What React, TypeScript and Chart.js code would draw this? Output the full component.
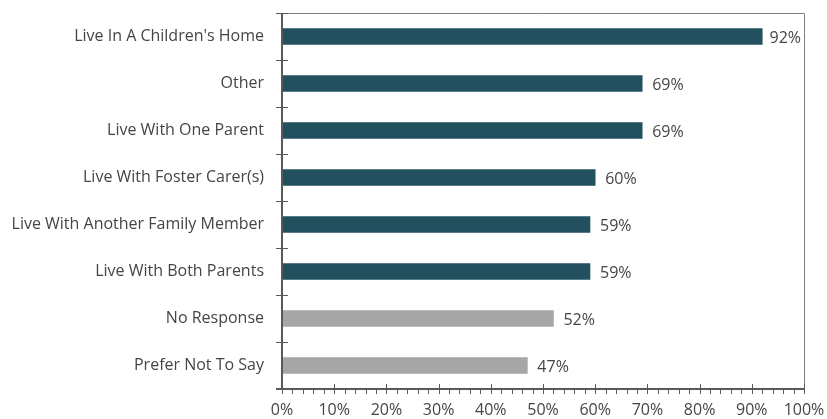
import React, { useEffect, useRef } from "react";
import { Chart, registerables } from "chart.js";

Chart.register(...registerables);

const categories = [
  "Live In A Children's Home",
  "Other",
  "Live With One Parent",
  "Live With Foster Carer(s)",
  "Live With Another Family Member",
  "Live With Both Parents",
  "No Response",
  "Prefer Not To Say",
];
const values = [92, 69, 69, 60, 59, 59, 52, 47];
const barColors = [
  "#23505E", "#23505E", "#23505E", "#23505E", "#23505E", "#23505E",
  "#A6A6A6", "#A6A6A6",
];
const xTickStep = 10;
const xMinorStep = 2;

const FONT = "'Open Sans', 'DejaVu Sans', sans-serif";
const TEXT = "#454545";
const AXIS = "#595959";

const framePlugin = {
  id: "frameTicks",
  afterDraw(chart: any) {
    const ctx = chart.ctx;
    const { left, right, top, bottom } = chart.chartArea;
    const xs = chart.scales.x;
    const ys = chart.scales.y;
    ctx.save();
    ctx.strokeStyle = "#7F7F7F";
    ctx.lineWidth = 1;
    ctx.beginPath();
    ctx.moveTo(left - 6, top + 0.5);
    ctx.lineTo(right + 0.5, top + 0.5);
    ctx.lineTo(right + 0.5, bottom);
    ctx.stroke();
    ctx.strokeStyle = AXIS;
    ctx.lineWidth = 2;
    ctx.beginPath();
    ctx.moveTo(left, top);
    ctx.lineTo(left, bottom);
    ctx.moveTo(left - 6, bottom);
    ctx.lineTo(right, bottom);
    ctx.stroke();
    ctx.lineWidth = 1;
    const n = categories.length;
    for (let i = 0; i <= n; i++) {
      const y = Math.round(ys.getPixelForValue(i - 0.5)) + 0.5;
      ctx.beginPath();
      ctx.moveTo(left - 6, y);
      ctx.lineTo(left + 6, y);
      ctx.stroke();
    }
    for (let v = 0; v <= 100; v += xMinorStep) {
      const x = Math.round(xs.getPixelForValue(v)) + 0.5;
      const major = v % xTickStep === 0;
      ctx.beginPath();
      ctx.moveTo(x, major ? bottom - 5 : bottom);
      ctx.lineTo(x, bottom + 5);
      ctx.stroke();
    }
    const meta = chart.getDatasetMeta(0);
    ctx.fillStyle = TEXT;
    ctx.font = `16px ${FONT}`;
    ctx.textAlign = "left";
    ctx.textBaseline = "middle";
    meta.data.forEach((bar: any, i: number) => {
      const txt = values[i] + "%";
      const w = ctx.measureText(txt).width;
      const x = Math.min(bar.x + 10, right - w - 3);
      ctx.fillText(txt, x, bar.y + 2);
    });
    ctx.restore();
  },
};

export default function App() {
  const ref = useRef<HTMLCanvasElement>(null);
  useEffect(() => {
    document.body.style.margin = "0";
    const chart = new Chart(ref.current!, {
      type: "bar",
      data: {
        labels: categories,
        datasets: [
          {
            data: values,
            backgroundColor: barColors,
            barThickness: 16,
            borderWidth: 0,
          },
        ],
      },
      options: {
        indexAxis: "y",
        animation: false,
        responsive: false,
        maintainAspectRatio: false,
        layout: { padding: { top: 13, right: 23, left: 0, bottom: 0 } },
        plugins: { legend: { display: false }, tooltip: { enabled: false } },
        scales: {
          x: {
            type: "linear",
            min: 0,
            max: 100,
            grid: { display: false, drawTicks: false, tickLength: 0 },
            border: { display: false },
            ticks: {
              stepSize: xTickStep,
              maxRotation: 0,
              padding: 12,
              color: TEXT,
              font: { family: FONT, size: 16 },
              callback: (v: any) => v + "%",
            },
            afterFit: (s: any) => {
              s.height = 30;
              s.paddingLeft = 0;
              s.paddingRight = 0;
            },
          },
          y: {
            type: "category",
            grid: { display: false, drawTicks: false, tickLength: 0 },
            border: { display: false },
            ticks: {
              padding: 18,
              color: TEXT,
              font: { family: FONT, size: 16 },
            },
            afterFit: (s: any) => {
              s.width = 282;
              s.paddingTop = 0;
              s.paddingBottom = 0;
            },
          },
        },
      },
      plugins: [framePlugin],
    });
    return () => chart.destroy();
  }, []);
  return (
    <div style={{ position: "fixed", left: 0, top: 0, width: 827, height: 419 }}>
      <canvas ref={ref} width={827} height={419} />
    </div>
  );
}
